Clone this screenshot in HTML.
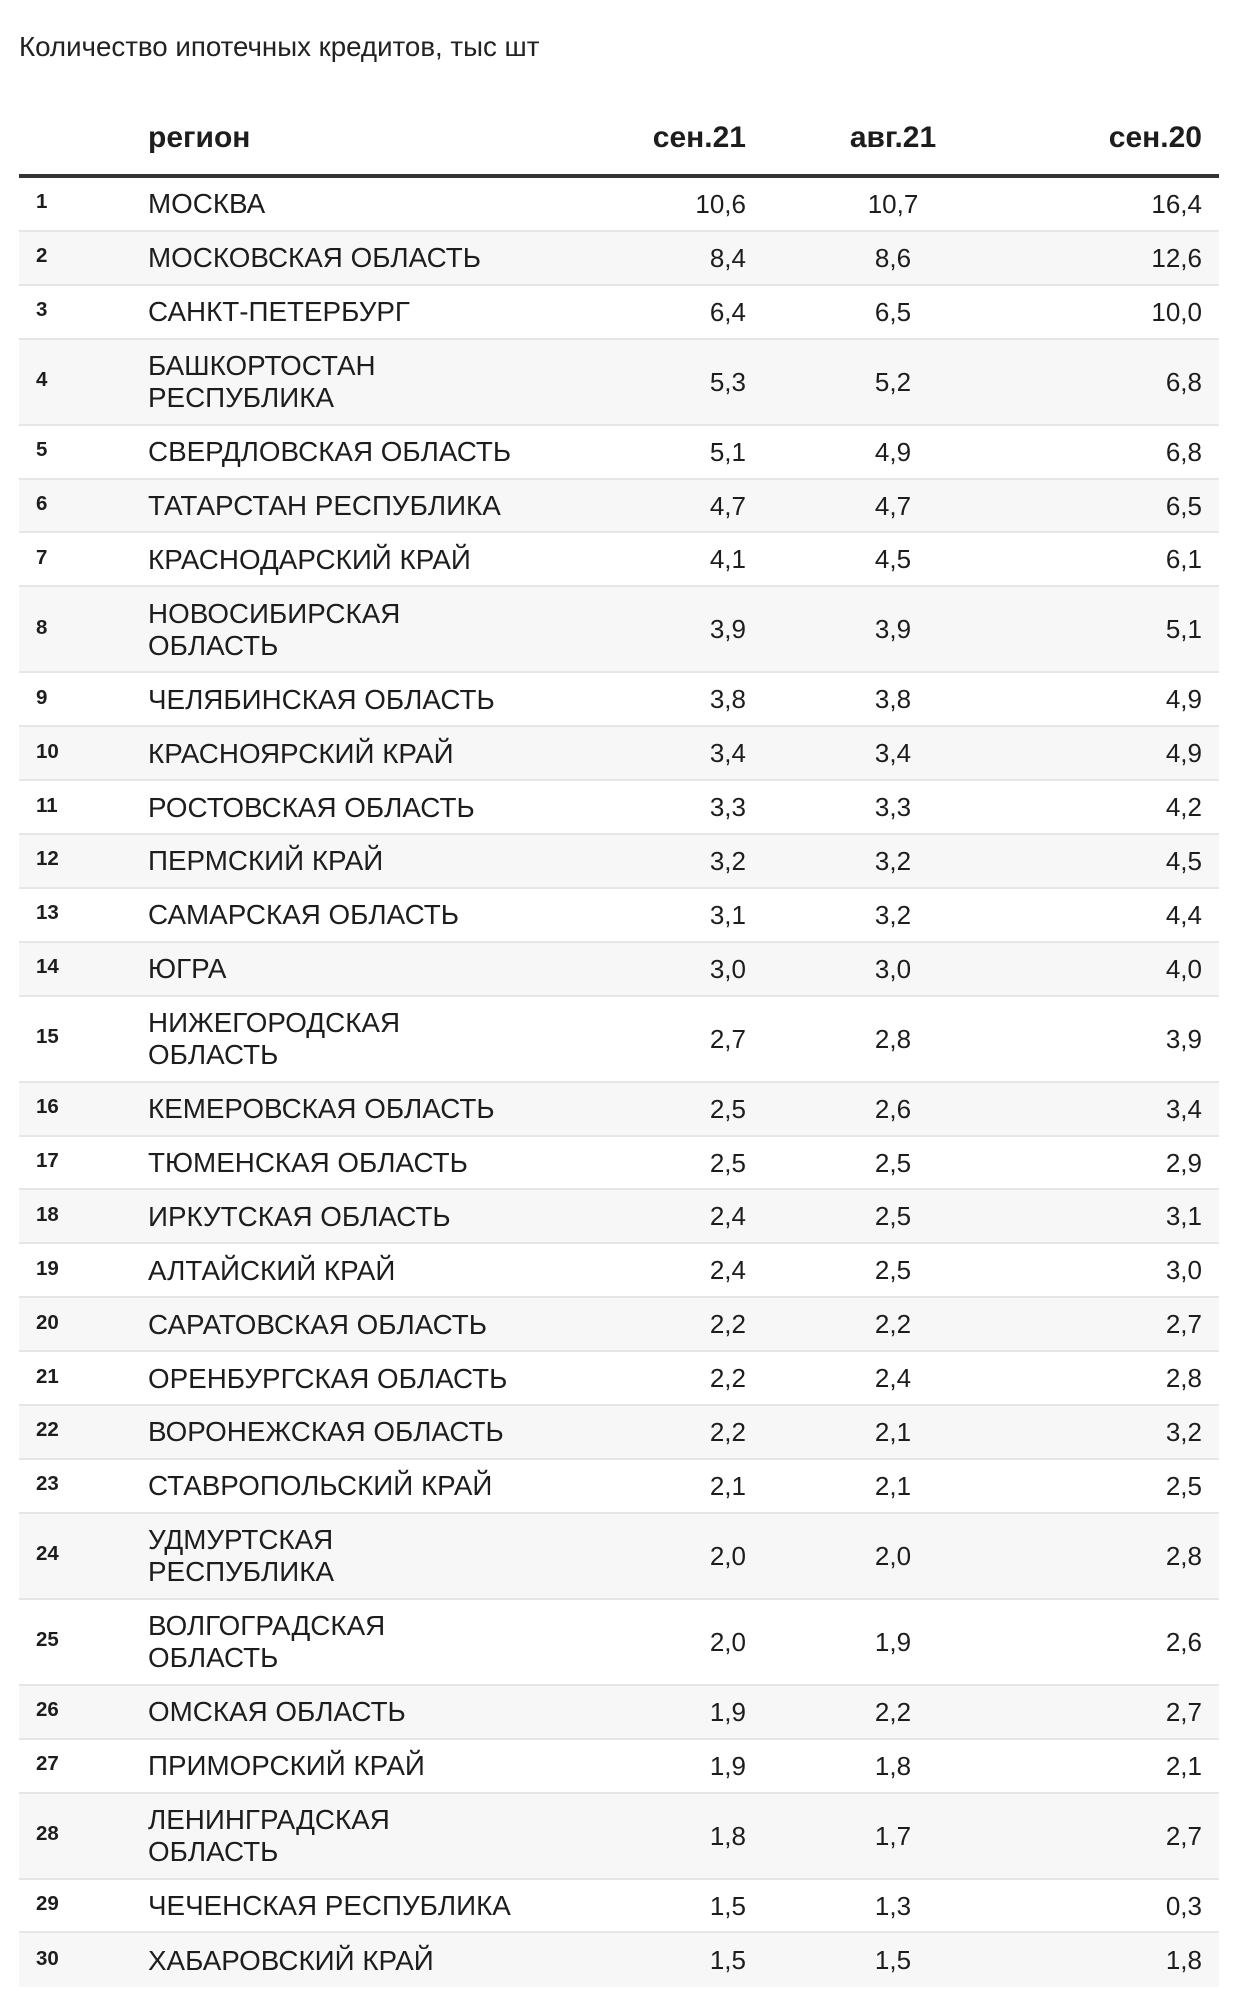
<!DOCTYPE html>
<html>
<head>
<meta charset="utf-8">
<style>
  html, body { margin:0; padding:0; background:#fff; }
  body { width:1239px; height:2002px; position:relative; overflow:hidden;
         font-family:"Liberation Sans", "Noto Sans CJK SC", sans-serif; color:#1d1d1d; }
  .title { position:absolute; left:19px; top:31px; font-size:27.7px; line-height:31px; color:#222; white-space:nowrap; }
  .hd { position:absolute; top:120px; font-size:30px; line-height:35px; font-weight:bold; color:#1d1d1d; white-space:nowrap; }
  .thick { position:absolute; left:19px; width:1200px; top:174px; height:4px; background:#333; }
  .tbl { position:absolute; left:19px; top:178px; width:1200px; }
  .r { position:relative; box-sizing:border-box; border-bottom:2px solid #e6e6e6; }
  .r.s { height:53.9px; }
  .r.d { height:86px; }
  .r.e { background:#f7f7f7; }
  .r.last { border-bottom:none; }
  .r span { position:absolute; top:0; bottom:0; display:flex; align-items:center; white-space:nowrap; }
  .n { left:17px; font-size:20.5px; font-weight:bold; padding-bottom:3px; box-sizing:border-box; }
  .g { left:129px; font-size:27.8px; line-height:32px; padding-top:1px; box-sizing:border-box; }
  .a { right:473px; font-size:26px; justify-content:flex-end; padding-top:1px; box-sizing:border-box; }
  .b { left:774px; width:200px; font-size:26px; justify-content:center; padding-top:1px; box-sizing:border-box; }
  .c { right:17px; font-size:26px; justify-content:flex-end; padding-top:1px; box-sizing:border-box; }
</style>
</head>
<body>
<div class="title">Количество ипотечных кредитов, тыс шт</div>
<div class="hd" style="left:148px;">регион</div>
<div class="hd" style="right:493px;">сен.21</div>
<div class="hd" style="left:793px;width:200px;text-align:center;">авг.21</div>
<div class="hd" style="right:37px;">сен.20</div>
<div class="thick"></div>
<div class="tbl">
<div class="r s"><span class="n">1</span><span class="g">МОСКВА</span><span class="a">10,6</span><span class="b">10,7</span><span class="c">16,4</span></div>
<div class="r s e"><span class="n">2</span><span class="g">МОСКОВСКАЯ ОБЛАСТЬ</span><span class="a">8,4</span><span class="b">8,6</span><span class="c">12,6</span></div>
<div class="r s"><span class="n">3</span><span class="g">САНКТ-ПЕТЕРБУРГ</span><span class="a">6,4</span><span class="b">6,5</span><span class="c">10,0</span></div>
<div class="r d e"><span class="n">4</span><span class="g">БАШКОРТОСТАН<br>РЕСПУБЛИКА</span><span class="a">5,3</span><span class="b">5,2</span><span class="c">6,8</span></div>
<div class="r s"><span class="n">5</span><span class="g">СВЕРДЛОВСКАЯ ОБЛАСТЬ</span><span class="a">5,1</span><span class="b">4,9</span><span class="c">6,8</span></div>
<div class="r s e"><span class="n">6</span><span class="g">ТАТАРСТАН РЕСПУБЛИКА</span><span class="a">4,7</span><span class="b">4,7</span><span class="c">6,5</span></div>
<div class="r s"><span class="n">7</span><span class="g">КРАСНОДАРСКИЙ КРАЙ</span><span class="a">4,1</span><span class="b">4,5</span><span class="c">6,1</span></div>
<div class="r d e"><span class="n">8</span><span class="g">НОВОСИБИРСКАЯ<br>ОБЛАСТЬ</span><span class="a">3,9</span><span class="b">3,9</span><span class="c">5,1</span></div>
<div class="r s"><span class="n">9</span><span class="g">ЧЕЛЯБИНСКАЯ ОБЛАСТЬ</span><span class="a">3,8</span><span class="b">3,8</span><span class="c">4,9</span></div>
<div class="r s e"><span class="n">10</span><span class="g">КРАСНОЯРСКИЙ КРАЙ</span><span class="a">3,4</span><span class="b">3,4</span><span class="c">4,9</span></div>
<div class="r s"><span class="n">11</span><span class="g">РОСТОВСКАЯ ОБЛАСТЬ</span><span class="a">3,3</span><span class="b">3,3</span><span class="c">4,2</span></div>
<div class="r s e"><span class="n">12</span><span class="g">ПЕРМСКИЙ КРАЙ</span><span class="a">3,2</span><span class="b">3,2</span><span class="c">4,5</span></div>
<div class="r s"><span class="n">13</span><span class="g">САМАРСКАЯ ОБЛАСТЬ</span><span class="a">3,1</span><span class="b">3,2</span><span class="c">4,4</span></div>
<div class="r s e"><span class="n">14</span><span class="g">ЮГРА</span><span class="a">3,0</span><span class="b">3,0</span><span class="c">4,0</span></div>
<div class="r d"><span class="n">15</span><span class="g">НИЖЕГОРОДСКАЯ<br>ОБЛАСТЬ</span><span class="a">2,7</span><span class="b">2,8</span><span class="c">3,9</span></div>
<div class="r s e"><span class="n">16</span><span class="g">КЕМЕРОВСКАЯ ОБЛАСТЬ</span><span class="a">2,5</span><span class="b">2,6</span><span class="c">3,4</span></div>
<div class="r s"><span class="n">17</span><span class="g">ТЮМЕНСКАЯ ОБЛАСТЬ</span><span class="a">2,5</span><span class="b">2,5</span><span class="c">2,9</span></div>
<div class="r s e"><span class="n">18</span><span class="g">ИРКУТСКАЯ ОБЛАСТЬ</span><span class="a">2,4</span><span class="b">2,5</span><span class="c">3,1</span></div>
<div class="r s"><span class="n">19</span><span class="g">АЛТАЙСКИЙ КРАЙ</span><span class="a">2,4</span><span class="b">2,5</span><span class="c">3,0</span></div>
<div class="r s e"><span class="n">20</span><span class="g">САРАТОВСКАЯ ОБЛАСТЬ</span><span class="a">2,2</span><span class="b">2,2</span><span class="c">2,7</span></div>
<div class="r s"><span class="n">21</span><span class="g">ОРЕНБУРГСКАЯ ОБЛАСТЬ</span><span class="a">2,2</span><span class="b">2,4</span><span class="c">2,8</span></div>
<div class="r s e"><span class="n">22</span><span class="g">ВОРОНЕЖСКАЯ ОБЛАСТЬ</span><span class="a">2,2</span><span class="b">2,1</span><span class="c">3,2</span></div>
<div class="r s"><span class="n">23</span><span class="g">СТАВРОПОЛЬСКИЙ КРАЙ</span><span class="a">2,1</span><span class="b">2,1</span><span class="c">2,5</span></div>
<div class="r d e"><span class="n">24</span><span class="g">УДМУРТСКАЯ<br>РЕСПУБЛИКА</span><span class="a">2,0</span><span class="b">2,0</span><span class="c">2,8</span></div>
<div class="r d"><span class="n">25</span><span class="g">ВОЛГОГРАДСКАЯ<br>ОБЛАСТЬ</span><span class="a">2,0</span><span class="b">1,9</span><span class="c">2,6</span></div>
<div class="r s e"><span class="n">26</span><span class="g">ОМСКАЯ ОБЛАСТЬ</span><span class="a">1,9</span><span class="b">2,2</span><span class="c">2,7</span></div>
<div class="r s"><span class="n">27</span><span class="g">ПРИМОРСКИЙ КРАЙ</span><span class="a">1,9</span><span class="b">1,8</span><span class="c">2,1</span></div>
<div class="r d e"><span class="n">28</span><span class="g">ЛЕНИНГРАДСКАЯ<br>ОБЛАСТЬ</span><span class="a">1,8</span><span class="b">1,7</span><span class="c">2,7</span></div>
<div class="r s"><span class="n">29</span><span class="g">ЧЕЧЕНСКАЯ РЕСПУБЛИКА</span><span class="a">1,5</span><span class="b">1,3</span><span class="c">0,3</span></div>
<div class="r s e last"><span class="n">30</span><span class="g">ХАБАРОВСКИЙ КРАЙ</span><span class="a">1,5</span><span class="b">1,5</span><span class="c">1,8</span></div>
</div>
</body>
</html>
